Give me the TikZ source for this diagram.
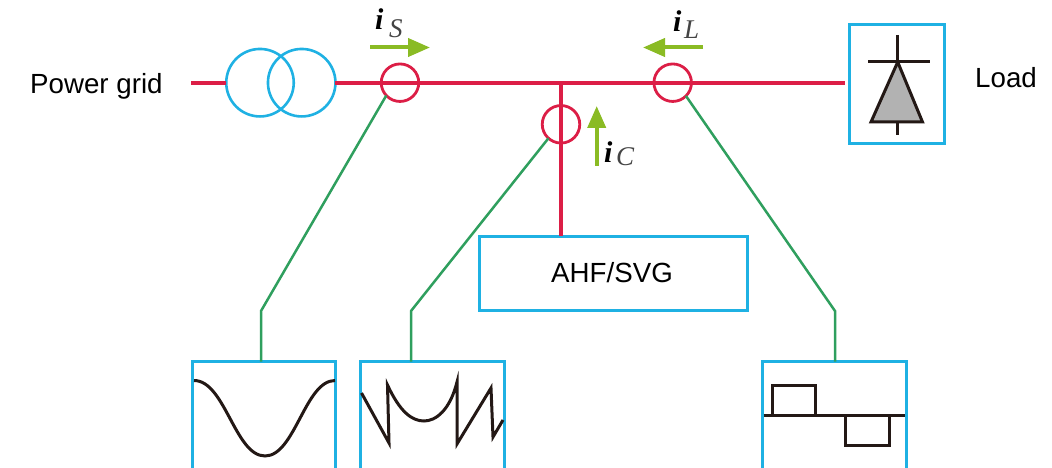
\documentclass[tikz,border=0pt]{standalone}
\usepackage{fontspec}
\setmainfont{Liberation Sans}
\newfontfamily\serifit{Liberation Serif}
\usetikzlibrary{arrows.meta,calc}
\definecolor{busred}{HTML}{DC1E46}
\definecolor{boxblue}{HTML}{1FB1E3}
\definecolor{wiregreen}{HTML}{2F9F5E}
\definecolor{flowgreen}{HTML}{8ABB24}
\definecolor{inkblack}{HTML}{231815}
\definecolor{subgray}{HTML}{444444}
\tikzset{
  x=1pt,y=-1pt,
  bus/.style={draw=busred,line width=4pt},
  ct/.style={circle,draw=busred,line width=2.8pt,minimum size=37.5pt,inner sep=0pt,outer sep=0pt},
  xfmr/.style={circle,draw=boxblue,line width=2.6pt,minimum size=67.5pt,inner sep=0pt,outer sep=0pt},
  bluebox/.style={rectangle,draw=boxblue,line width=3pt,inner sep=0pt,outer sep=0pt,anchor=north west},
  sense/.style={draw=wiregreen,line width=2.5pt},
  flow/.style={draw=flowgreen,line width=4pt,-{Triangle[length=22pt,width=18pt,fill=flowgreen]}},
  wave/.style={draw=inkblack,line width=3pt},
  txt/.style={font=\fontsize{27.7}{30}\selectfont,inner sep=0pt,anchor=base west,text=black},
  mainI/.style={font=\serifit\bfseries\itshape\fontsize{30}{30}\selectfont,inner sep=0pt,anchor=base west,text=black},
  subI/.style={font=\serifit\itshape\fontsize{27}{30}\selectfont,inner sep=0pt,anchor=base west,text=subgray},
}
\begin{document}
\begin{tikzpicture}
\useasboundingbox (0,0) rectangle (1052,468);
\clip (0,0) rectangle (1052,468);
% bus coordinates
\coordinate (gridEnd) at (191,82.7);
\coordinate (loadEnd) at (845,82.7);
\coordinate (tee) at (561,82.7);
% nodes
\node[txt] (gridlabel) at (30,93.3) {Power grid};
\node[txt] (loadlabel) at (975,88) {Load};
\node[xfmr] (t1) at (260,82.7) {};
\node[xfmr] (t2) at (301.7,82.7) {};
\node[ct] (cts) at (400,82.7) {};
\node[ct] (ctl) at (672.7,82.7) {};
\node[ct] (ctc) at (561,124.3) {};
\node[bluebox,minimum width=268pt,minimum height=74pt] (ahf) at (479,236) {};
\node[txt] (ahflabel) at (551,282) {AHF/SVG};
\node[bluebox,minimum width=95pt,minimum height=119pt] (loadbox) at (849,25) {};
\node[bluebox,minimum width=143pt,minimum height=130pt] (wa) at (192.7,361.7) {};
\node[bluebox,minimum width=144pt,minimum height=130pt] (wb) at (360,361.7) {};
\node[bluebox,minimum width=144pt,minimum height=130pt] (wc) at (762,361.7) {};
% bus
\draw[bus] (gridEnd) -- (t1.west);
\draw[bus] (t2.east) -- (loadEnd);
\draw[bus] (tee) -- (tee |- ahf.north);
% sensing wires
\coordinate (ka) at (261,311);
\coordinate (kb) at (411,311);
\coordinate (kc) at (835,311);
\draw[sense] (cts.223) -- (ka) -- (ka |- wa.north);
\draw[sense] (ctc.228) -- (kb) -- (kb |- wb.north);
\draw[sense] (ctl.315) -- (kc) -- (kc |- wc.north);
% current arrows
\coordinate (sa) at (370,47.5); \coordinate (sb) at (430,47.5);
\coordinate (la) at (703,47.5); \coordinate (lb) at (643,47.5);
\coordinate (ca) at (596.7,165.7); \coordinate (cb) at (596.7,106);
\draw[flow] (sa) -- (sb);
\draw[flow] (la) -- (lb);
\draw[flow] (ca) -- (cb);
\node[mainI] (is) at (375,30) {i};
\node[subI] (iss) at (389,38) {S};
\node[mainI] (il) at (673,32) {i};
\node[subI] (ils) at (684,39) {L};
\node[mainI] (ic) at (604,163) {i};
\node[subI] (ics) at (616,165) {C};
% diode
\draw[wave] (897.7,35) -- (897.7,62);
\draw[wave] (868,62) -- (930,62);
\draw[wave,fill=black!30,line join=miter] (897.7,62) -- (871,122) -- (922.5,122) -- cycle;
\draw[wave] (897.7,122) -- (897.7,135);
% waveforms
\draw[wave] (194,380.5) .. controls (225,380.5) and (235,456) .. (265,456)
  .. controls (295,456) and (305,380.5) .. (335,380.5);
\draw[wave,line join=miter] (361.5,393) -- (389,443) -- (387.5,385)
  .. controls (400,412) and (412,421) .. (424,421)
  .. controls (436,421) and (450,410) .. (457,382)
  -- (457,444) -- (491,388) -- (493,437) -- (503,420);
\draw[wave] (763.5,415) -- (905,415);
\draw[wave] (772.5,415) -- (772.5,385) -- (815.5,385) -- (815.5,415);
\draw[wave] (845,415) -- (845,445) -- (889,445) -- (889,415);
\end{tikzpicture}
\end{document}
